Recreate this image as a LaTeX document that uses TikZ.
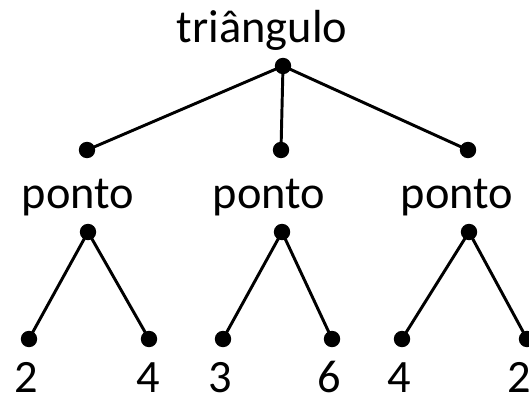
\documentclass[tikz,border=0pt]{standalone}
\usepackage{fontspec}
\setmainfont{Carlito}
\usepackage{tikz}
\tikzstyle{Dot}=[minimum size=0.41cm, inner sep=0pt, fill=black, draw=none, shape=circle]
\tikzstyle{Label}=[inner sep=0pt, anchor=base, text=black, font=\fontsize{33}{39}\selectfont]
\tikzstyle{edge}=[line width = 2.1pt, draw=black]
\pgfdeclarelayer{nodelayer}
\pgfdeclarelayer{edgelayer}
\pgfsetlayers{edgelayer, nodelayer, main}
\begin{document}
\begin{tikzpicture}
	\useasboundingbox (0,0) rectangle (13.225,9.925);
	\begin{pgfonlayer}{nodelayer}
		\node [style=Dot] (root) at (7.075, 8.275) {};
		\node [style=Dot] (arm1) at (2.175, 6.175) {};
		\node [style=Dot] (arm2) at (7.025, 6.175) {};
		\node [style=Dot] (arm3) at (11.7, 6.175) {};
		\node [style=Dot] (ponto1) at (2.2, 4.125) {};
		\node [style=Dot] (ponto2) at (7.05, 4.125) {};
		\node [style=Dot] (ponto3) at (11.725, 4.125) {};
		\node [style=Dot] (x1) at (0.725, 1.45) {};
		\node [style=Dot] (y1) at (3.725, 1.45) {};
		\node [style=Dot] (x2) at (5.575, 1.45) {};
		\node [style=Dot] (y2) at (8.3, 1.45) {};
		\node [style=Dot] (x3) at (10.05, 1.45) {};
		\node [style=Dot] (y3) at (13.175, 1.45) {};

		% labels
		\node [style=Label] (rootlabel) at (6.55, 8.85) {triângulo};
		\node [style=Label] (label1) at (1.95, 4.725) {ponto};
		\node [style=Label] (label2) at (6.725, 4.725) {ponto};
		\node [style=Label] (label3) at (11.425, 4.725) {ponto};
		\node [style=Label] (labelx1) at (0.65, 0.12) {2};
		\node [style=Label] (labely1) at (3.7, 0.12) {4};
		\node [style=Label] (labelx2) at (5.5, 0.12) {3};
		\node [style=Label] (labely2) at (8.225, 0.12) {6};
		\node [style=Label] (labelx3) at (9.975, 0.12) {4};
		\node [style=Label] (labely3) at (12.975, 0.12) {2};
	\end{pgfonlayer}
	\begin{pgfonlayer}{edgelayer}
		\draw [style=edge] (root.center) to (arm1.center);
		\draw [style=edge] (root.center) to (arm2.center);
		\draw [style=edge] (root.center) to (arm3.center);
		\draw [style=edge] (ponto1.center) to (x1.center);
		\draw [style=edge] (ponto1.center) to (y1.center);
		\draw [style=edge] (ponto2.center) to (x2.center);
		\draw [style=edge] (ponto2.center) to (y2.center);
		\draw [style=edge] (ponto3.center) to (x3.center);
		\draw [style=edge] (ponto3.center) to (y3.center);
	\end{pgfonlayer}
\end{tikzpicture}
\end{document}
